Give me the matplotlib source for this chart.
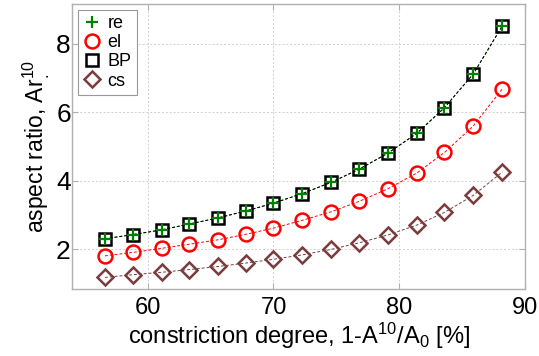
import numpy as np
import matplotlib
matplotlib.use("Agg")
import matplotlib.pyplot as plt

plt.rcParams['font.family'] = ['Liberation Sans', 'DejaVu Sans']
plt.rcParams['mathtext.fontset'] = 'custom'
plt.rcParams['mathtext.rm'] = 'Liberation Sans'
plt.rcParams['mathtext.it'] = 'Liberation Sans'

# constriction degree [%]
degree = [56.6, 58.8, 61.1, 63.3, 65.6, 67.8, 70.0, 72.3, 74.6, 76.8, 79.1, 81.4, 83.6, 85.9, 88.2]
# aspect ratio per method
ar_re = [2.30, 2.42, 2.56, 2.73, 2.91, 3.11, 3.34, 3.62, 3.95, 4.33, 4.80, 5.38, 6.13, 7.12, 8.52]
ar_el = [1.80, 1.90, 2.02, 2.14, 2.27, 2.43, 2.61, 2.84, 3.09, 3.39, 3.76, 4.22, 4.82, 5.60, 6.68]
ar_bp = [2.30, 2.42, 2.56, 2.73, 2.91, 3.11, 3.34, 3.62, 3.95, 4.33, 4.80, 5.38, 6.13, 7.12, 8.52]
ar_cs = [1.17, 1.25, 1.32, 1.40, 1.49, 1.59, 1.70, 1.83, 1.99, 2.18, 2.41, 2.70, 3.07, 3.57, 4.25]

brown = '#7a3c3c'

fig = plt.figure(figsize=(5.39, 3.56), dpi=100)
ax = fig.add_axes([0.134, 0.188, 0.840, 0.800])

ax.plot(degree, ar_re, '--', color='green', lw=0.7, dashes=(3, 2))
ax.plot(degree, ar_el, '--', color='red', lw=0.7, dashes=(3, 2))
ax.plot(degree, ar_bp, '--', color='black', lw=0.7, dashes=(3, 2))
ax.plot(degree, ar_cs, '--', color=brown, lw=0.7, dashes=(3, 2))

ax.plot(degree, ar_bp, 's', ls='none', mfc='none', mec='black', ms=8, mew=1.8, label='BP')
ax.plot(degree, ar_re, '+', ls='none', color='green', ms=9, mew=1.6, label='re')
ax.plot(degree, ar_el, 'o', ls='none', mfc='none', mec='red', ms=10, mew=1.8, label='el')
ax.plot(degree, ar_cs, 'D', ls='none', mfc='none', mec=brown, ms=8, mew=1.8, label='cs')

h, l = ax.get_legend_handles_labels()
order = [1, 2, 0, 3]
leg = ax.legend([h[i] for i in order], [l[i] for i in order], loc='upper left',
                fontsize=13, handlelength=1.0, handletextpad=0.35, labelspacing=0.12,
                borderpad=0.3, borderaxespad=0.3, fancybox=False, framealpha=1)
leg.get_frame().set_edgecolor('#999999')
leg.get_frame().set_linewidth(0.8)

ax.set_xlim(54, 90)
ax.set_ylim(0.83, 9.15)
ax.set_xticks([60, 70, 80, 90])
ax.set_yticks([2, 4, 6, 8])
ax.grid(True, ls=(0, (2, 2)), color='#d0d0d0', lw=0.7)
for s in ax.spines.values():
    s.set_color('#b0b0b0')
    s.set_linewidth(1.0)
ax.tick_params(direction='in', length=4, color='#b0b0b0', top=True, right=True)
ax.tick_params(axis='x', labelsize=17, pad=6)
ax.tick_params(axis='y', labelsize=19, pad=1)

ax.set_xlabel(r'constriction degree, 1-A$^{10}$/A$_{0}$ [%]', fontsize=17, labelpad=1)
ax.set_ylabel(r'aspect ratio, Ar$^{10}_{.}$', fontsize=16.5, labelpad=3)

fig.savefig('out.png', dpi=100)
